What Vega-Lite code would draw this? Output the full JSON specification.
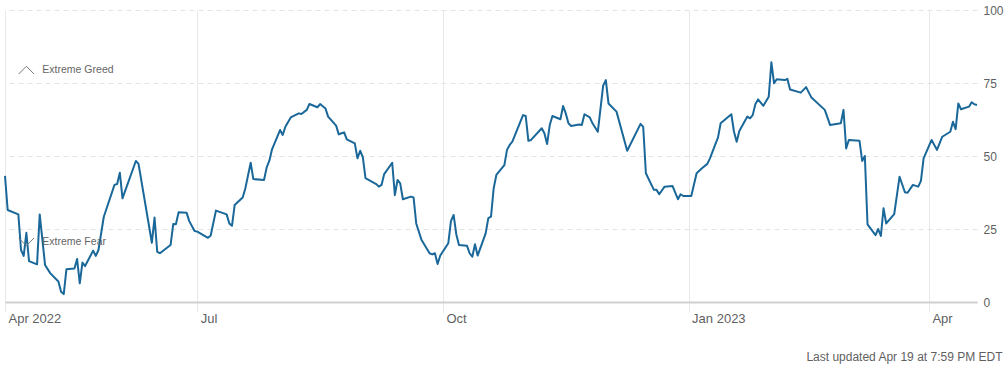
{
  "$schema": "https://vega.github.io/schema/vega-lite/v6.json",
  "width": 972,
  "height": 292,
  "autosize": {"type": "none"},
  "padding": {"left": 5, "top": 10, "right": 31, "bottom": 67},
  "background": "white",
  "config": {
    "view": {"stroke": null},
    "font": "Liberation Sans",
    "axis": {"labelFont": "Liberation Sans", "titleFont": "Liberation Sans"}
  },
  "layer": [
    {
      "data": {"values": [
        {"date":"2022-04-20","value":43.2},{"date":"2022-04-21","value":31.5},{"date":"2022-04-25","value":30.0},{"date":"2022-04-26","value":17.8},{"date":"2022-04-27","value":15.8},{"date":"2022-04-28","value":23.7},{"date":"2022-04-29","value":14.0},{"date":"2022-05-02","value":12.9},{"date":"2022-05-03","value":30.0},{"date":"2022-05-05","value":12.7},{"date":"2022-05-07","value":9.8},{"date":"2022-05-10","value":7.0},{"date":"2022-05-11","value":3.5},{"date":"2022-05-12","value":2.7},{"date":"2022-05-13","value":11.2},{"date":"2022-05-16","value":11.5},{"date":"2022-05-17","value":14.7},{"date":"2022-05-18","value":6.4},{"date":"2022-05-19","value":13.5},{"date":"2022-05-20","value":12.3},{"date":"2022-05-23","value":17.6},{"date":"2022-05-24","value":15.8},{"date":"2022-05-25","value":17.8},{"date":"2022-05-27","value":29.2},{"date":"2022-05-31","value":40.1},{"date":"2022-06-01","value":40.4},{"date":"2022-06-02","value":44.3},{"date":"2022-06-03","value":35.5},{"date":"2022-06-08","value":48.3},{"date":"2022-06-09","value":47.3},{"date":"2022-06-14","value":20.3},{"date":"2022-06-15","value":28.9},{"date":"2022-06-16","value":17.2},{"date":"2022-06-17","value":16.7},{"date":"2022-06-21","value":19.5},{"date":"2022-06-22","value":26.7},{"date":"2022-06-23","value":26.6},{"date":"2022-06-24","value":30.7},{"date":"2022-06-27","value":30.6},{"date":"2022-06-28","value":27.7},{"date":"2022-06-30","value":24.3},{"date":"2022-07-01","value":24.1},{"date":"2022-07-05","value":22.0},{"date":"2022-07-06","value":22.7},{"date":"2022-07-08","value":31.3},{"date":"2022-07-12","value":30.0},{"date":"2022-07-13","value":26.9},{"date":"2022-07-14","value":26.1},{"date":"2022-07-15","value":33.2},{"date":"2022-07-18","value":35.8},{"date":"2022-07-19","value":38.9},{"date":"2022-07-21","value":47.7},{"date":"2022-07-22","value":42.1},{"date":"2022-07-26","value":41.8},{"date":"2022-07-27","value":46.1},{"date":"2022-07-28","value":48.4},{"date":"2022-07-29","value":52.3},{"date":"2022-08-01","value":58.9},{"date":"2022-08-02","value":57.2},{"date":"2022-08-03","value":60.0},{"date":"2022-08-05","value":63.2},{"date":"2022-08-08","value":64.6},{"date":"2022-08-09","value":64.4},{"date":"2022-08-11","value":65.8},{"date":"2022-08-12","value":67.8},{"date":"2022-08-15","value":66.7},{"date":"2022-08-16","value":67.8},{"date":"2022-08-18","value":66.3},{"date":"2022-08-19","value":63.5},{"date":"2022-08-22","value":60.4},{"date":"2022-08-23","value":57.4},{"date":"2022-08-24","value":57.8},{"date":"2022-08-25","value":58.1},{"date":"2022-08-26","value":55.7},{"date":"2022-08-29","value":54.3},{"date":"2022-08-30","value":49.2},{"date":"2022-08-31","value":51.8},{"date":"2022-09-01","value":49.6},{"date":"2022-09-02","value":42.4},{"date":"2022-09-06","value":40.4},{"date":"2022-09-07","value":39.5},{"date":"2022-09-08","value":40.1},{"date":"2022-09-09","value":43.8},{"date":"2022-09-12","value":47.7},{"date":"2022-09-13","value":36.6},{"date":"2022-09-14","value":41.8},{"date":"2022-09-15","value":40.6},{"date":"2022-09-16","value":35.2},{"date":"2022-09-19","value":36.1},{"date":"2022-09-20","value":35.8},{"date":"2022-09-21","value":26.9},{"date":"2022-09-23","value":21.2},{"date":"2022-09-26","value":16.7},{"date":"2022-09-27","value":16.3},{"date":"2022-09-28","value":16.7},{"date":"2022-09-29","value":13.0},{"date":"2022-09-30","value":15.9},{"date":"2022-10-03","value":20.1},{"date":"2022-10-04","value":27.7},{"date":"2022-10-05","value":29.8},{"date":"2022-10-06","value":23.2},{"date":"2022-10-07","value":19.5},{"date":"2022-10-10","value":19.3},{"date":"2022-10-11","value":16.7},{"date":"2022-10-12","value":15.5},{"date":"2022-10-13","value":19.8},{"date":"2022-10-14","value":15.9},{"date":"2022-10-17","value":23.5},{"date":"2022-10-18","value":28.7},{"date":"2022-10-19","value":29.2},{"date":"2022-10-20","value":38.9},{"date":"2022-10-21","value":43.5},{"date":"2022-10-24","value":46.9},{"date":"2022-10-25","value":52.1},{"date":"2022-10-26","value":53.8},{"date":"2022-10-27","value":54.9},{"date":"2022-10-31","value":64.0},{"date":"2022-11-01","value":63.7},{"date":"2022-11-02","value":55.2},{"date":"2022-11-03","value":55.5},{"date":"2022-11-07","value":59.5},{"date":"2022-11-08","value":57.8},{"date":"2022-11-09","value":54.1},{"date":"2022-11-10","value":60.6},{"date":"2022-11-11","value":63.7},{"date":"2022-11-14","value":62.6},{"date":"2022-11-15","value":67.1},{"date":"2022-11-16","value":64.6},{"date":"2022-11-17","value":61.2},{"date":"2022-11-18","value":60.3},{"date":"2022-11-21","value":60.8},{"date":"2022-11-22","value":60.6},{"date":"2022-11-23","value":64.3},{"date":"2022-11-25","value":63.2},{"date":"2022-11-26","value":61.2},{"date":"2022-11-28","value":58.3},{"date":"2022-11-30","value":74.1},{"date":"2022-12-01","value":76.0},{"date":"2022-12-02","value":68.0},{"date":"2022-12-05","value":65.2},{"date":"2022-12-09","value":51.8},{"date":"2022-12-14","value":61.0},{"date":"2022-12-15","value":60.0},{"date":"2022-12-16","value":44.1},{"date":"2022-12-19","value":38.4},{"date":"2022-12-20","value":38.4},{"date":"2022-12-21","value":36.9},{"date":"2022-12-23","value":39.5},{"date":"2022-12-26","value":39.7},{"date":"2022-12-28","value":35.2},{"date":"2022-12-29","value":36.9},{"date":"2022-12-30","value":36.3},{"date":"2023-01-02","value":36.3},{"date":"2023-01-04","value":44.1},{"date":"2023-01-06","value":45.8},{"date":"2023-01-08","value":47.3},{"date":"2023-01-09","value":49.2},{"date":"2023-01-11","value":54.0},{"date":"2023-01-12","value":56.3},{"date":"2023-01-13","value":61.2},{"date":"2023-01-17","value":64.3},{"date":"2023-01-18","value":58.3},{"date":"2023-01-19","value":54.9},{"date":"2023-01-20","value":58.6},{"date":"2023-01-23","value":63.5},{"date":"2023-01-24","value":62.9},{"date":"2023-01-25","value":64.0},{"date":"2023-01-26","value":67.7},{"date":"2023-01-27","value":69.4},{"date":"2023-01-29","value":67.2},{"date":"2023-01-31","value":70.3},{"date":"2023-02-01","value":82.1},{"date":"2023-02-02","value":74.9},{"date":"2023-02-03","value":76.3},{"date":"2023-02-06","value":76.0},{"date":"2023-02-07","value":76.4},{"date":"2023-02-08","value":72.8},{"date":"2023-02-12","value":71.7},{"date":"2023-02-14","value":73.6},{"date":"2023-02-16","value":70.0},{"date":"2023-02-21","value":65.8},{"date":"2023-02-23","value":60.6},{"date":"2023-02-27","value":61.2},{"date":"2023-02-28","value":65.8},{"date":"2023-03-01","value":52.6},{"date":"2023-03-02","value":55.5},{"date":"2023-03-06","value":55.2},{"date":"2023-03-07","value":48.3},{"date":"2023-03-08","value":50.0},{"date":"2023-03-09","value":26.6},{"date":"2023-03-12","value":22.9},{"date":"2023-03-13","value":25.0},{"date":"2023-03-14","value":22.6},{"date":"2023-03-15","value":32.1},{"date":"2023-03-16","value":26.9},{"date":"2023-03-19","value":30.1},{"date":"2023-03-21","value":42.9},{"date":"2023-03-23","value":37.6},{"date":"2023-03-24","value":37.4},{"date":"2023-03-26","value":40.1},{"date":"2023-03-28","value":39.5},{"date":"2023-03-29","value":41.5},{"date":"2023-03-30","value":49.2},{"date":"2023-04-02","value":55.5},{"date":"2023-04-04","value":52.1},{"date":"2023-04-06","value":56.6},{"date":"2023-04-09","value":58.3},{"date":"2023-04-10","value":61.7},{"date":"2023-04-11","value":59.2},{"date":"2023-04-12","value":68.0},{"date":"2023-04-13","value":66.0},{"date":"2023-04-16","value":66.9},{"date":"2023-04-17","value":68.4},{"date":"2023-04-18","value":67.7},{"date":"2023-04-19","value":67.5}
      ]},
      "mark": {"type": "line", "color": "#1a6899", "strokeWidth": 2, "strokeJoin": "round"},
      "encoding": {
        "x": {
          "field": "date", "type": "temporal",
          "scale": {"type": "utc", "nice": false, "padding": 0,
            "domain": [{"year": 2022, "month": 4, "date": 20, "utc": true}, {"year": 2023, "month": 4, "date": 19, "utc": true}]},
          "axis": {
            "orient": "bottom",
            "values": [
              {"year": 2022, "month": 4, "date": 20, "utc": true},
              {"year": 2022, "month": 7, "date": 1, "utc": true},
              {"year": 2022, "month": 10, "date": 1, "utc": true},
              {"year": 2023, "month": 1, "date": 1, "utc": true},
              {"year": 2023, "month": 4, "date": 1, "utc": true}
            ],
            "labelExpr": "(utcmonth(datum.value) == 0 || (utcyear(datum.value) == 2022 && utcmonth(datum.value) == 3)) ? utcFormat(datum.value, '%b %Y') : utcFormat(datum.value, '%b')",
            "grid": true, "gridColor": "#e8e8e8", "gridWidth": 1,
            "domain": true, "domainColor": "#d0d0d0", "domainWidth": 2,
            "ticks": true, "tickColor": "#e8e8e8", "tickSize": 10,
            "labelAlign": "left", "labelBaseline": "top", "labelOffset": 3, "labelPadding": 0,
            "labelFontSize": 13, "labelColor": "#5f5f5f", "labelOverlap": false, "labelFlush": false,
            "title": "Last updated Apr 19 at 7:59 PM EDT",
            "titleAlign": "right", "titleAnchor": "end", "titleX": 997, "titleY": 54,
            "titleBaseline": "middle", "titleFontSize": 12, "titleFontWeight": "normal", "titleColor": "#5f5f5f"
          }
        },
        "y": {
          "field": "value", "type": "quantitative",
          "scale": {"domain": [0, 100], "nice": false},
          "axis": {
            "orient": "right", "values": [0, 25, 50, 75, 100],
            "grid": true, "gridDash": [5, 4], "gridColor": "#e4e4e4",
            "domain": false, "ticks": false, "labelPadding": 6,
            "labelFontSize": 12, "labelColor": "#5f5f5f", "title": null
          }
        }
      }
    },
    {
      "data": {"values": [
        {"date": "2022-04-28", "value": 79.4, "label": "Extreme Greed", "dir": "up"},
        {"date": "2022-04-28", "value": 20.6, "label": "Extreme Fear", "dir": "down"}
      ]},
      "mark": {"type": "point", "filled": false, "stroke": "#777777", "strokeWidth": 1, "size": 240, "opacity": 1},
      "encoding": {
        "x": {"field": "date", "type": "temporal"},
        "y": {"field": "value", "type": "quantitative"},
        "shape": {"field": "dir", "type": "nominal", "legend": null,
          "scale": {"domain": ["up", "down"], "range": ["M-1,0.5L0,-0.5L1,0.5", "M-1,-0.5L0,0.5L1,-0.5"]}}
      }
    },
    {
      "data": {"values": [
        {"date": "2022-04-28", "value": 79.4, "label": "Extreme Greed", "dir": "up"},
        {"date": "2022-04-28", "value": 20.6, "label": "Extreme Fear", "dir": "down"}
      ]},
      "mark": {"type": "text", "align": "left", "baseline": "middle", "dx": 16, "fontSize": 10.5, "color": "#666666", "font": "Liberation Sans"},
      "encoding": {
        "x": {"field": "date", "type": "temporal"},
        "y": {"field": "value", "type": "quantitative"},
        "text": {"field": "label"}
      }
    }
  ]
}
